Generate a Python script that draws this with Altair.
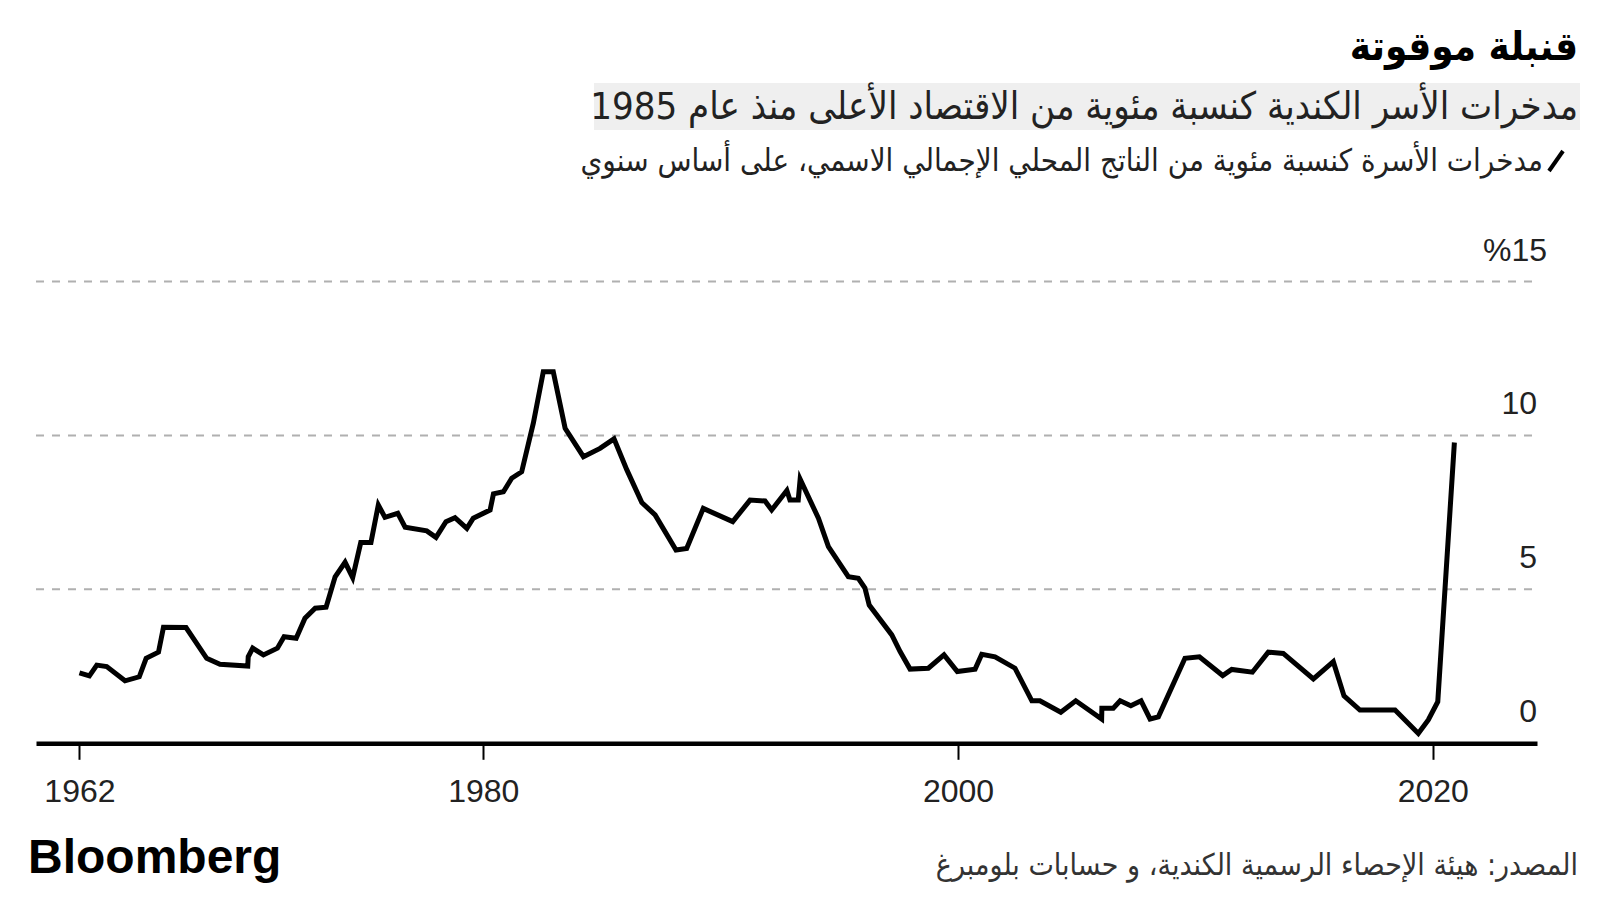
import altair as alt
import pandas as pd

# ---- data ----
years = [1962.99, 1963.41, 1963.72, 1964.14, 1964.91, 1965.51, 1965.80, 1966.32, 1966.53, 1967.48,
         1968.35, 1968.91, 1970.08, 1970.10, 1970.29, 1970.74, 1971.33, 1971.61, 1972.12, 1972.49,
         1972.92, 1973.38, 1973.76, 1974.18, 1974.50, 1974.84, 1975.27, 1975.58, 1975.86, 1976.40,
         1976.71, 1977.62, 1978.01, 1978.43, 1978.81, 1979.31, 1979.58, 1980.29, 1980.43, 1980.85,
         1981.20, 1981.62, 1982.11, 1982.53, 1982.95, 1983.45, 1984.22, 1984.92, 1985.51, 1986.05,
         1986.68, 1987.24, 1988.12, 1988.57, 1989.27, 1990.51, 1991.24, 1991.87, 1992.15, 1992.79,
         1992.92, 1993.27, 1993.35, 1994.12, 1994.54, 1995.38, 1995.80, 1996.08, 1996.26, 1997.21,
         1997.56, 1997.98, 1998.75, 1999.41, 1999.97, 2000.72, 2001.00, 2001.56, 2002.40, 2003.11,
         2003.45, 2004.33, 2004.96, 2006.05, 2006.06, 2006.54, 2006.83, 2007.28, 2007.71, 2008.09,
         2008.44, 2009.56, 2010.17, 2011.15, 2011.53, 2012.40, 2013.07, 2013.70, 2014.97, 2015.81,
         2016.26, 2016.93, 2018.41, 2019.39, 2019.81, 2020.21, 2020.91]
savings = [2.29, 2.19, 2.54, 2.49, 2.03, 2.16, 2.76, 2.96, 3.77, 3.76,
           2.76, 2.57, 2.51, 2.81, 3.09, 2.87, 3.09, 3.46, 3.41, 4.06,
           4.39, 4.42, 5.41, 5.88, 5.38, 6.52, 6.52, 7.74, 7.34, 7.47,
           7.02, 6.90, 6.69, 7.20, 7.33, 6.98, 7.31, 7.58, 8.10, 8.17,
           8.61, 8.82, 10.40, 12.07, 12.07, 10.23, 9.31, 9.58, 9.89, 8.88,
           7.82, 7.42, 6.28, 6.33, 7.63, 7.20, 7.90, 7.87, 7.58, 8.21,
           7.90, 7.90, 8.58, 7.31, 6.39, 5.41, 5.36, 5.04, 4.49, 3.52,
           2.98, 2.41, 2.44, 2.87, 2.33, 2.41, 2.89, 2.81, 2.44, 1.38,
           1.38, 1.01, 1.38, 0.79, 1.14, 1.14, 1.38, 1.22, 1.38, 0.79,
           0.86, 2.76, 2.81, 2.20, 2.40, 2.31, 2.96, 2.92, 2.09, 2.65,
           1.54, 1.08, 1.08, 0.32, 0.76, 1.35, 9.77]
x_tick_values = [1962.99, 1980, 2000, 2020]
y_grid_values = [5, 10, 15]
y_label_values = [0, 5, 10]
y_label_texts = ["0", "5", "10"]
y_top_value = [15]
y_top_text = ["%15"]

title_text = "قنبلة موقوتة"
subtitle_text = "مدخرات الأسر الكندية كنسبة مئوية من الاقتصاد الأعلى منذ عام 1985"
legend_text = "مدخرات الأسرة كنسبة مئوية من الناتج المحلي الإجمالي الاسمي، على أساس سنوي"
source_text = "المصدر: هيئة الإحصاء الرسمية الكندية، و حسابات بلومبرغ"
brand_text = "Bloomberg"

# ---- layout ----
W = 1501
H = 461.8
PAD = {"left": 36, "top": 281.5, "right": 63, "bottom": 156.7}
AR_FONT = "DejaVu Sans Condensed"
NUM_FONT = "Liberation Sans"

df = pd.DataFrame({"year": years, "value": savings})
x_scale = alt.Scale(domain=[1961.16, 2024.39], nice=False, zero=False)
y_scale = alt.Scale(domain=[0, 15], nice=False, zero=True)

grid = alt.Chart(pd.DataFrame({"v": y_grid_values})).mark_rule(
    color="#b0b0b0", strokeWidth=2, strokeDash=[8, 8]
).encode(y=alt.Y("v:Q", scale=y_scale, axis=None), x=alt.value(0), x2=alt.value(W))

line = alt.Chart(df).mark_line(color="black", strokeWidth=5).encode(
    x=alt.X("year:Q", scale=x_scale,
            axis=alt.Axis(values=x_tick_values, labelExpr="format(floor(datum.value), 'd')",
                          title=None, grid=False, domainColor="black", domainWidth=4.5,
                          tickColor="black", tickWidth=2, tickSize=16,
                          labelFont=NUM_FONT, labelFontSize=32, labelColor="#222",
                          labelPadding=17, labelFlush=False, labelOverlap=False)),
    y=alt.Y("value:Q", scale=y_scale, axis=None),
)

ylab = alt.Chart(pd.DataFrame({"v": y_label_values, "t": y_label_texts})).mark_text(
    align="right", baseline="alphabetic", dy=-21, font=NUM_FONT, fontSize=32, color="#222"
).encode(x=alt.value(W), y=alt.Y("v:Q", scale=y_scale, axis=None), text="t:N")

ytop = alt.Chart(pd.DataFrame({"v": y_top_value, "t": y_top_text})).mark_text(
    align="right", baseline="alphabetic", dy=-21, dx=10, font=NUM_FONT, fontSize=32, color="#222"
).encode(x=alt.value(W), y=alt.Y("v:Q", scale=y_scale, axis=None), text="t:N")


def one(text):
    return pd.DataFrame({"t": [text]})


sub_box = alt.Chart(one("")).mark_rect(color="#efefef").encode(
    x=alt.value(558), x2=alt.value(1544), y=alt.value(-198.5), y2=alt.value(-151.5))

title = alt.Chart(one(title_text)).mark_text(
    align="right", baseline="alphabetic", font=AR_FONT, fontSize=40, fontWeight="bold", color="#000"
).encode(x=alt.value(1542), y=alt.value(-222), text="t:N")

subtitle = alt.Chart(one(subtitle_text)).mark_text(
    align="right", baseline="alphabetic", font=AR_FONT, fontSize=38, color="#222"
).encode(x=alt.value(1542), y=alt.value(-163), text="t:N")

legend_icon = alt.Chart(one("")).mark_rule(color="black", strokeWidth=4).encode(
    x=alt.value(1513), x2=alt.value(1527), y=alt.value(-110.5), y2=alt.value(-130.5))

legend = alt.Chart(one(legend_text)).mark_text(
    align="right", baseline="alphabetic", font=AR_FONT, fontSize=31, color="#222"
).encode(x=alt.value(1507), y=alt.value(-111), text="t:N")

source = alt.Chart(one(source_text)).mark_text(
    align="right", baseline="alphabetic", font=AR_FONT, fontSize=30, color="#333"
).encode(x=alt.value(1542), y=alt.value(593), text="t:N")

brand = alt.Chart(one(brand_text)).mark_text(
    align="left", baseline="alphabetic", font=NUM_FONT, fontSize=48, fontWeight="bold",
    color="#000"
).encode(x=alt.value(-8), y=alt.value(591.5), text="t:N")

chart = alt.layer(grid, line, ylab, ytop, sub_box, title, subtitle, legend_icon, legend, source, brand).properties(
    width=W, height=H, padding=PAD, autosize=alt.AutoSizeParams(type="none"), background="white"
).configure_view(stroke=None)

chart.save("out.html", embed_options={"renderer": "svg", "actions": False})
